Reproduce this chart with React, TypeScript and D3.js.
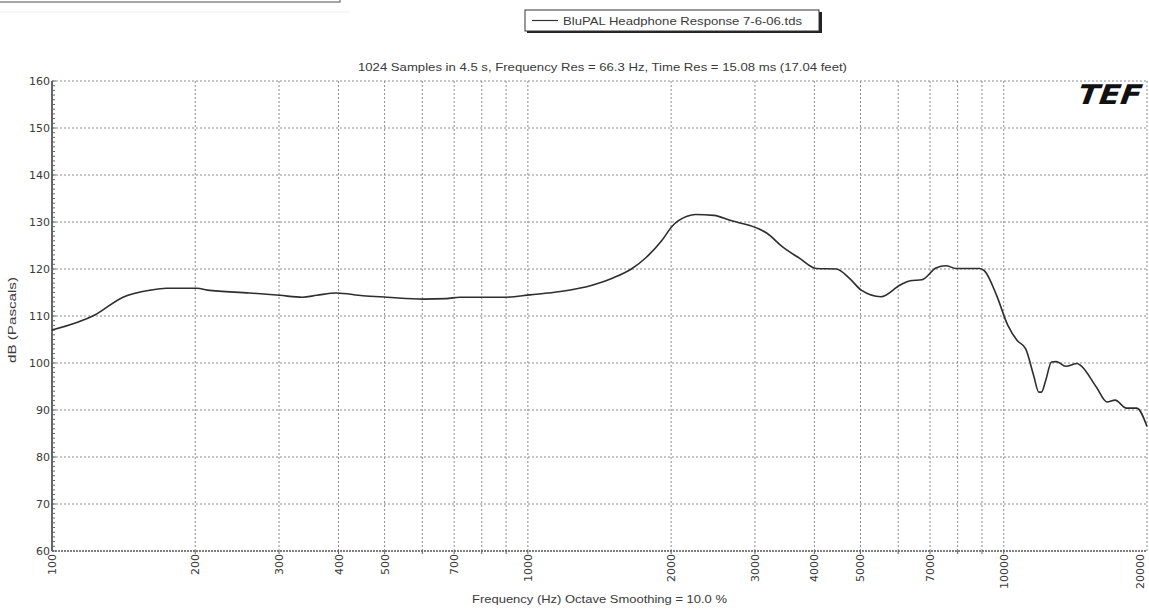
import React, { useEffect, useRef } from 'react';
import * as d3 from 'd3';

// frequency (Hz) and level (dB)
const freqs = [100, 123, 141, 161, 174, 202, 212, 260, 301, 336, 360, 396, 450, 506, 602, 674, 719, 901,
  1010, 1170, 1370, 1510, 1650, 1770, 1910, 2010, 2160, 2250, 2460, 2670, 3030, 3180, 3430, 3720, 4040,
  4450, 4740, 5020, 5520, 6060, 6360, 6730, 7200, 7560, 7940, 8900, 9110, 9660, 10200, 10670, 11120,
  11560, 11850, 12000, 12250, 12600, 12900, 13500, 14260, 14500, 15650, 16490, 17140, 18100, 19030, 20000];
const levels = [107.0, 110.2, 114.0, 115.5, 115.9, 115.9, 115.5, 114.9, 114.4, 114.0, 114.4, 114.9, 114.3,
  114.0, 113.6, 113.7, 114.0, 114.0, 114.5, 115.2, 116.6, 118.1, 120.0, 122.4, 126.0, 129.1, 131.2, 131.6,
  131.4, 130.3, 128.7, 127.6, 124.7, 122.3, 120.1, 120.0, 118.0, 115.5, 114.1, 116.6, 117.5, 117.7, 120.2,
  120.7, 120.1, 120.1, 119.6, 114.4, 108.0, 104.8, 103.0, 97.3, 93.8, 93.8, 96.3, 100.2, 100.3, 99.3, 99.9,
  99.5, 94.9, 91.7, 92.1, 90.4, 90.4, 86.5];

const xLabels = [100, 200, 300, 400, 500, 700, 1000, 2000, 3000, 4000, 5000, 7000, 10000, 20000];
const xGrid = [200, 300, 400, 500, 600, 700, 800, 900, 1000, 2000, 3000, 4000, 5000, 6000, 7000, 8000, 9000, 10000];
const yTicks = [60, 70, 80, 90, 100, 110, 120, 130, 140, 150, 160];

const title = '1024 Samples in 4.5 s, Frequency Res = 66.3 Hz, Time Res = 15.08 ms (17.04 feet)';
const legendText = 'BluPAL Headphone Response 7-6-06.tds';
const xTitle = 'Frequency (Hz) Octave Smoothing = 10.0 %';
const yTitle = 'dB (Pascals)';

const App = () => {
  const ref = useRef(null);

  useEffect(() => {
    const W = 1149, H = 610;
    const left = 52, right = 1147, top = 81, bottom = 551;
    const font = 'Liberation Sans, Arial, sans-serif';
    const tickFont = 'DejaVu Sans, sans-serif';
    const txt = '#3a3a3a';

    d3.select(ref.current).selectAll('*').remove();
    const svg = d3.select(ref.current).append('svg')
      .attr('width', W).attr('height', H)
      .style('position', 'absolute').style('left', 0).style('top', 0)
      .style('background', '#fff');

    const x = d3.scaleLog().domain([100, 20000]).range([left, right]);
    const y = d3.scaleLinear().domain([60, 160]).range([bottom, top]);

    // cut-off box at top left
    svg.append('rect').attr('x', -2).attr('y', -20).attr('width', 342).attr('height', 22)
      .attr('fill', 'none').attr('stroke', '#8a8a8a').attr('stroke-width', 1.5);
    svg.append('line').attr('x1', 0).attr('x2', 350).attr('y1', 12).attr('y2', 12)
      .attr('stroke', '#f0f0f0');

    // grid
    const grid = svg.append('g').attr('stroke', '#8c8c8c').attr('stroke-dasharray', '2,2').attr('stroke-width', 1);
    grid.selectAll('.h').data(yTicks.filter(d => d > 60)).enter().append('line')
      .attr('x1', left).attr('x2', right).attr('y1', d => y(d)).attr('y2', d => y(d));
    grid.selectAll('.v').data(xGrid).enter().append('line')
      .attr('x1', d => x(d)).attr('x2', d => x(d)).attr('y1', top).attr('y2', bottom);
    grid.append('line').attr('x1', right).attr('x2', right).attr('y1', top).attr('y2', bottom);
    svg.append('line').attr('x1', left).attr('x2', right).attr('y1', bottom).attr('y2', bottom)
      .attr('stroke', '#555').attr('stroke-width', 1.6).attr('stroke-dasharray', '2,1');

    // left axis with minor ticks
    svg.append('line').attr('x1', left).attr('x2', left).attr('y1', top).attr('y2', bottom)
      .attr('stroke', '#333').attr('stroke-width', 1.5);
    svg.selectAll('.minor').data(d3.range(60, 161, 1)).enter().append('line')
      .attr('x1', left).attr('x2', d => left + (d % 10 === 0 ? 4 : 3))
      .attr('y1', d => y(d)).attr('y2', d => y(d))
      .attr('stroke', '#666').attr('stroke-width', 1);
    svg.selectAll('.xt').data(xGrid).enter().append('line')
      .attr('x1', d => x(d)).attr('x2', d => x(d)).attr('y1', bottom).attr('y2', bottom + 3)
      .attr('stroke', '#666');

    svg.selectAll('.yl').data(yTicks).enter().append('text')
      .attr('x', left - 2).attr('y', d => y(d) + 4)
      .attr('text-anchor', 'end').attr('font-family', tickFont).attr('font-size', 11).attr('fill', txt)
      .text(d => d);

    svg.selectAll('.xl').data(xLabels).enter().append('text')
      .attr('transform', d => `translate(${Math.min(x(d) + 4, 1144)},${bottom + 3}) rotate(-90)`)
      .attr('text-anchor', 'end').attr('font-family', tickFont).attr('font-size', 11).attr('fill', txt)
      .text(d => d);

    svg.append('text').attr('x', 472).attr('y', 603)
      .attr('textLength', 255).attr('lengthAdjust', 'spacingAndGlyphs')
      .attr('font-family', font).attr('font-size', 11).attr('fill', txt).text(xTitle);
    svg.append('text').attr('transform', `translate(16,363) rotate(-90)`)
      .attr('textLength', 86).attr('lengthAdjust', 'spacingAndGlyphs')
      .attr('font-family', font).attr('font-size', 11).attr('fill', txt)
      .text(yTitle);

    svg.append('text').attr('x', 358).attr('y', 71)
      .attr('textLength', 489).attr('lengthAdjust', 'spacingAndGlyphs')
      .attr('font-family', font).attr('font-size', 11).attr('fill', txt).text(title);

    // legend
    svg.append('rect').attr('x', 527).attr('y', 12).attr('width', 295).attr('height', 21).attr('fill', '#222');
    svg.append('rect').attr('x', 525).attr('y', 10).attr('width', 294).attr('height', 21)
      .attr('fill', '#fff').attr('stroke', '#333').attr('stroke-width', 1);
    svg.append('line').attr('x1', 532).attr('x2', 558).attr('y1', 20.5).attr('y2', 20.5)
      .attr('stroke', '#333').attr('stroke-width', 1.2);
    svg.append('text').attr('x', 563).attr('y', 24.5)
      .attr('textLength', 239).attr('lengthAdjust', 'spacingAndGlyphs')
      .attr('font-family', font).attr('font-size', 11).attr('fill', txt).text(legendText);

    // TEF logo
    svg.append('text').attr('x', 1078).attr('y', 104)
      .attr('transform', 'skewX(-20)').attr('transform-origin', '1110 95')
      .attr('textLength', 64).attr('lengthAdjust', 'spacingAndGlyphs')
      .attr('font-family', 'DejaVu Sans, sans-serif').attr('font-weight', 900).attr('font-size', 27)
      .attr('fill', '#111').text('TEF');

    // response curve
    const pts = freqs.map((f, i) => [f, levels[i]]);
    const line = d3.line().x(d => x(d[0])).y(d => y(d[1])).curve(d3.curveMonotoneX);
    svg.append('path').datum(pts).attr('d', line)
      .attr('fill', 'none').attr('stroke', '#2e2e2e').attr('stroke-width', 1.6)
      .attr('stroke-linejoin', 'round');
  }, []);

  return <div ref={ref} />;
};

export default App;
